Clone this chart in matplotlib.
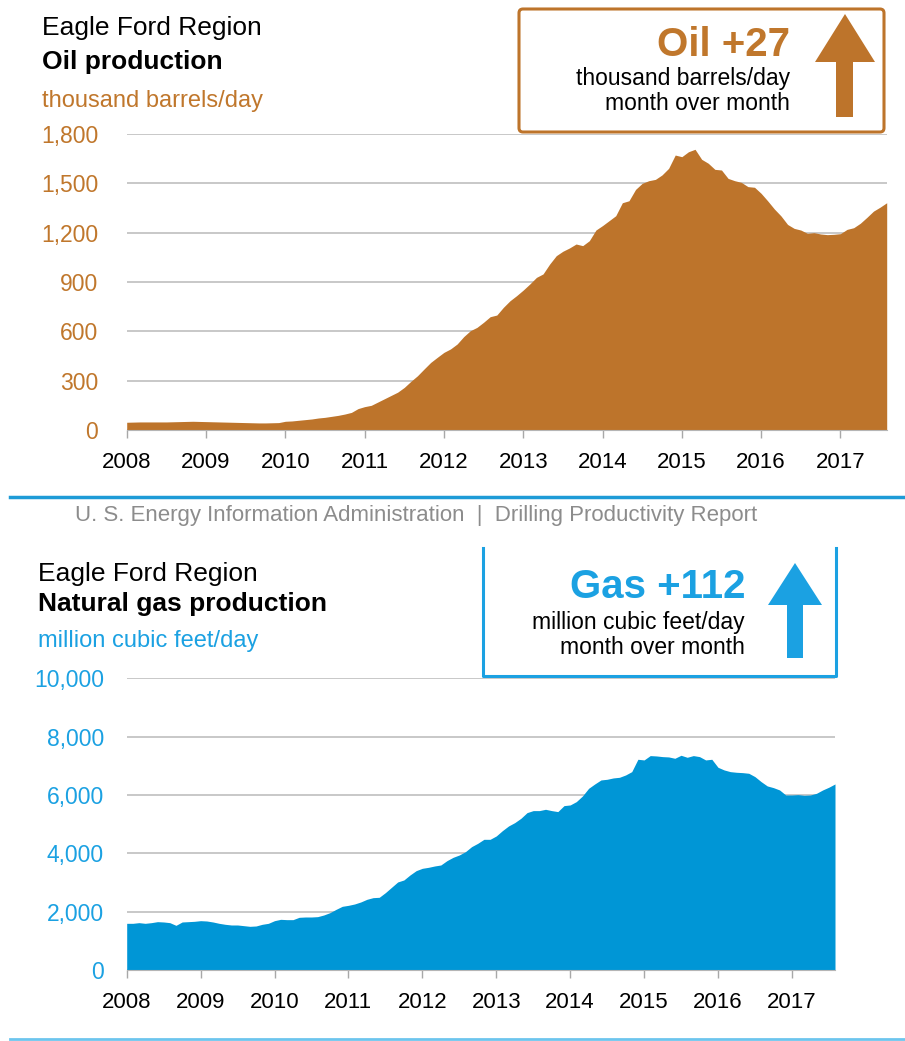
import numpy as np
import matplotlib
matplotlib.use("Agg")
import matplotlib.pyplot as plt
from matplotlib.patches import FancyBboxPatch, Polygon

plt.rcParams['font.family'] = ['Liberation Sans', 'DejaVu Sans']

# colores
OIL_COLOR = '#BD742B'
OIL_TEXT = '#C0772C'
GAS_COLOR = '#0096D6'
GAS_TEXT = '#1BA1E2'
GRID = '#C8C8C8'

# 🔹 Datos mensuales, ene-2008 a ago-2017
years = list(range(2008, 2018))

oil = [
    47, 48, 49, 49, 49, 49, 49, 50, 51, 52, 53, 52,                       # 2008
    51, 50, 49, 48, 47, 46, 45, 44, 43, 43, 44, 45,                       # 2009
    53, 55, 59, 63, 67, 73, 77, 83, 89, 97, 107, 130,                     # 2010
    142, 150, 170, 190, 210, 230, 259, 296, 330, 371, 411, 442,           # 2011
    472, 493, 523, 568, 604, 624, 655, 689, 699, 746, 786, 817,           # 2012
    851, 888, 928, 949, 1009, 1060, 1087, 1107, 1131, 1121, 1151, 1216,   # 2013
    1243, 1273, 1303, 1382, 1394, 1463, 1500, 1516, 1524, 1551, 1591, 1672,  # 2014
    1662, 1692, 1707, 1646, 1622, 1585, 1581, 1530, 1516, 1506, 1480, 1476,  # 2015
    1439, 1393, 1344, 1302, 1250, 1226, 1216, 1196, 1200, 1192, 1188, 1190,  # 2016
    1194, 1220, 1230, 1257, 1293, 1331, 1355, 1382,                       # 2017
]

gas = [
    1600, 1600, 1623, 1600, 1623, 1657, 1646, 1623, 1531, 1646, 1657, 1669,  # 2008
    1691, 1680, 1646, 1600, 1566, 1543, 1543, 1520, 1497, 1509, 1566, 1600,  # 2009
    1691, 1737, 1726, 1726, 1806, 1817, 1817, 1829, 1886, 1966, 2080, 2183,  # 2010
    2217, 2263, 2332, 2423, 2480, 2492, 2652, 2835, 3018, 3086, 3258, 3406,  # 2011
    3486, 3520, 3566, 3600, 3749, 3863, 3943, 4057, 4229, 4343, 4480, 4480,  # 2012
    4595, 4778, 4938, 5052, 5200, 5395, 5464, 5464, 5509, 5464, 5430, 5635,  # 2013
    5658, 5772, 5966, 6229, 6378, 6515, 6538, 6584, 6606, 6686, 6800, 7224,  # 2014
    7201, 7350, 7338, 7315, 7304, 7258, 7361, 7292, 7350, 7315, 7201, 7224,  # 2015
    6949, 6858, 6800, 6778, 6766, 6744, 6629, 6458, 6310, 6252, 6172, 6000,  # 2016
    6000, 6012, 5989, 6000, 6058, 6172, 6266, 6378,                          # 2017
]

oil_yticks = [0, 300, 600, 900, 1200, 1500, 1800]
gas_yticks = [0, 2000, 4000, 6000, 8000, 10000]

meses = 2008 + np.arange(len(oil)) / 12

W, H = 905, 1041
fig = plt.figure(figsize=(W / 100, H / 100), dpi=100)

# capa de decoración en pixeles
deco = fig.add_axes([0, 0, 1, 1])
deco.set_xlim(0, W)
deco.set_ylim(H, 0)
deco.axis('off')


def ejes(left, top, right, bottom):
    return fig.add_axes([left / W, 1 - bottom / H, (right - left) / W, (bottom - top) / H])


def estilo(ax, valores, yticks, color_fill, color_txt, ypad):
    ax.fill_between(meses, 0, valores, color=color_fill, lw=0, zorder=2)
    ax.set_xlim(2008, meses[-1])
    ax.set_ylim(0, yticks[-1])
    ax.set_yticks(yticks)
    ax.set_yticklabels([f'{v:,}' for v in yticks], color=color_txt)
    ax.set_xticks(years)
    ax.set_xticklabels([str(y) for y in years])
    ax.grid(axis='y', color=GRID, lw=1.4, zorder=0)
    ax.set_axisbelow(True)
    for s in ['top', 'right', 'left']:
        ax.spines[s].set_visible(False)
    ax.spines['bottom'].set_color('#B5B5B5')
    ax.tick_params(axis='y', length=0, pad=ypad, labelsize=16.5)
    ax.tick_params(axis='x', length=6, width=1, color='#A8A8A8', pad=10, labelsize=16)
    ax.patch.set_alpha(0)


# 🔹 Petróleo
ax1 = ejes(126.7, 134, 886.7, 430)
estilo(ax1, oil, oil_yticks, OIL_COLOR, OIL_TEXT, 20.5)

deco.text(42, 28, 'Eagle Ford Region', fontsize=19, va='center')
deco.text(42, 62, 'Oil production', fontsize=19, fontweight='bold', va='center')
deco.text(42, 101, 'thousand barrels/day', fontsize=17, color=OIL_TEXT, va='center')

deco.add_patch(FancyBboxPatch((519, 9), 365, 123, boxstyle='round,pad=0,rounding_size=4',
                              fc='white', ec=OIL_COLOR, lw=2.2))
deco.text(790, 45, 'Oil +27', fontsize=29, fontweight='bold', color=OIL_TEXT, ha='right', va='center')
deco.text(790, 78, 'thousand barrels/day', fontsize=16.5, ha='right', va='center')
deco.text(790, 104, 'month over month', fontsize=16.5, ha='right', va='center')
deco.add_patch(Polygon([(845, 14), (875, 62), (853, 62), (853, 117), (836, 117), (836, 62), (815, 62)],
                       closed=True, fc=OIL_COLOR, ec='none'))

deco.plot([10, W], [497, 497], color='#1E9BD7', lw=2.5)
deco.text(416, 516, 'U. S. Energy Information Administration  |  Drilling Productivity Report',
          fontsize=16, color='#8C8C8C', ha='center', va='center')

# 🔹 Gas natural
ax2 = ejes(126.7, 678.3, 835, 970)
estilo(ax2, gas, gas_yticks, GAS_COLOR, GAS_TEXT, 16.3)

deco.text(38, 574, 'Eagle Ford Region', fontsize=19, va='center')
deco.text(38, 604, 'Natural gas production', fontsize=19, fontweight='bold', va='center')
deco.text(38, 641, 'million cubic feet/day', fontsize=17, color=GAS_TEXT, va='center')

deco.plot([483, 483, 836, 836], [548, 676, 676, 548], color=GAS_TEXT, lw=2.2)
deco.text(745, 587, 'Gas +112', fontsize=29, fontweight='bold', color=GAS_TEXT, ha='right', va='center')
deco.text(745, 622, 'million cubic feet/day', fontsize=16.5, ha='right', va='center')
deco.text(745, 648, 'month over month', fontsize=16.5, ha='right', va='center')
deco.add_patch(Polygon([(795, 563), (822, 605), (803, 605), (803, 658), (787, 658), (787, 605), (768, 605)],
                       closed=True, fc=GAS_TEXT, ec='none'))

deco.plot([10, W], [1039, 1039], color='#6CC5EE', lw=2)

fig.savefig('out.png', dpi=100)
plt.close(fig)
